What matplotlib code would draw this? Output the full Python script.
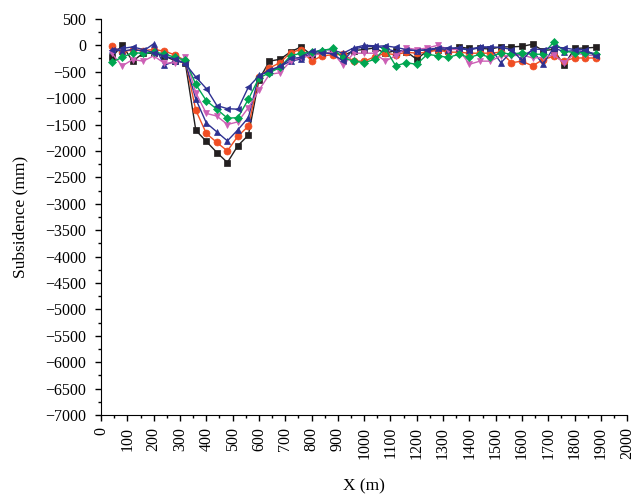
import numpy as np
import matplotlib
matplotlib.use("Agg")
import matplotlib.pyplot as plt
from matplotlib.ticker import MultipleLocator

plt.rcParams['font.family'] = ['Liberation Serif', 'DejaVu Serif']
plt.rcParams['axes.unicode_minus'] = True

# x positions of the survey points (m)
x = list(range(40, 1881, 40))

# subsidence (mm) for each series
black = [-230, 0, -300, -150, -150, -200, -290, -330, -1610, -1820, -2030, -2220,
         -1900, -1700, -650, -300, -265, -125, -30, -180, -150, -130, -200, -100,
         -80, -50, -150, -100, -120, -265, -100, -80, -100, -30, -60, -60, -70,
         -30, -30, -20, 20, -100, -80, -380, -60, -50, -40]
red = [-20, -130, -80, -100, -80, -110, -180, -290, -1230, -1670, -1840, -2000,
       -1720, -1530, -600, -430, -330, -140, -80, -300, -200, -180, -170, -300,
       -300, -220, -150, -180, -130, -150, -130, -90, -130, -130, -150, -150,
       -150, -130, -330, -300, -390, -270, -210, -300, -240, -240, -240]
blue_up = [-80, -110, -80, -110, 30, -380, -300, -320, -1020, -1470, -1640, -1810,
           -1600, -1370, -560, -500, -400, -300, -260, -150, -80, -90, -150, -50,
           0, -10, -60, -120, -90, -100, -90, -60, -80, -60, -90, -40, -50, -330,
           -120, -200, -100, -360, -50, -120, -100, -120, -160]
magenta = [-150, -390, -270, -300, -200, -340, -330, -230, -900, -1290, -1340, -1500,
           -1450, -1180, -850, -550, -520, -300, -230, -200, -150, -130, -380, -150,
           -150, -150, -300, -200, -50, -80, -50, 0, -80, -80, -360, -300, -300,
           -200, -200, -180, -240, -230, -180, -330, -150, -180, -200]
green = [-320, -230, -140, -150, -130, -160, -230, -280, -740, -1050, -1210, -1380,
         -1370, -1020, -620, -520, -420, -200, -150, -130, -100, -60, -240, -300,
         -330, -265, -60, -390, -330, -360, -170, -200, -230, -170, -230, -170,
         -230, -140, -170, -140, -170, -170, 60, -110, -140, -140, -170]
navy_left = [-90, -60, -30, -80, -140, -200, -260, -350, -600, -820, -1140, -1200,
             -1210, -790, -580, -470, -400, -250, -230, -110, -140, -160, -300, -70,
             -30, -20, -10, -40, -80, -100, -80, -50, -50, -50, -80, -30, -30, -40,
             -80, -290, -70, -80, -30, -50, -80, -80, -200]

series = [
    (black, '#231f20', 's'),
    (red, '#f04e23', 'o'),
    (blue_up, '#2e3192', '^'),
    (magenta, '#cc5fb5', 'v'),
    (green, '#00a651', 'D'),
    (navy_left, '#2e3192', '<'),
]

fig = plt.figure(figsize=(6.4, 4.97), dpi=100)
ax = fig.add_axes([0.158, 0.165, 0.822, 0.797])

for ys, c, m in series:
    ms = 4.3 if m == 'D' else 5.0
    ax.plot(x, ys, color=c, marker=m, markersize=ms, linewidth=1.0,
            markeredgewidth=0.5)

ax.set_xlim(0, 2000)
ax.set_ylim(-7000, 500)
ax.xaxis.set_major_locator(MultipleLocator(100))
ax.xaxis.set_minor_locator(MultipleLocator(50))
ax.yaxis.set_major_locator(MultipleLocator(500))
ax.yaxis.set_minor_locator(MultipleLocator(250))
ax.tick_params(which='major', direction='out', length=4.5, width=1,
               labelsize=11.5, pad=4)
ax.tick_params(which='minor', direction='out', length=2.5, width=1)
ax.tick_params(axis='y', which='major', pad=6)
for lbl in ax.get_xticklabels():
    lbl.set_rotation(90)

ax.spines['top'].set_visible(False)
ax.spines['right'].set_visible(False)

ax.set_xlabel('X (m)', fontsize=12.5, labelpad=14)
ax.set_ylabel('Subsidence (mm)', fontsize=12.5, labelpad=12)

fig.savefig('out.png', dpi=100)
